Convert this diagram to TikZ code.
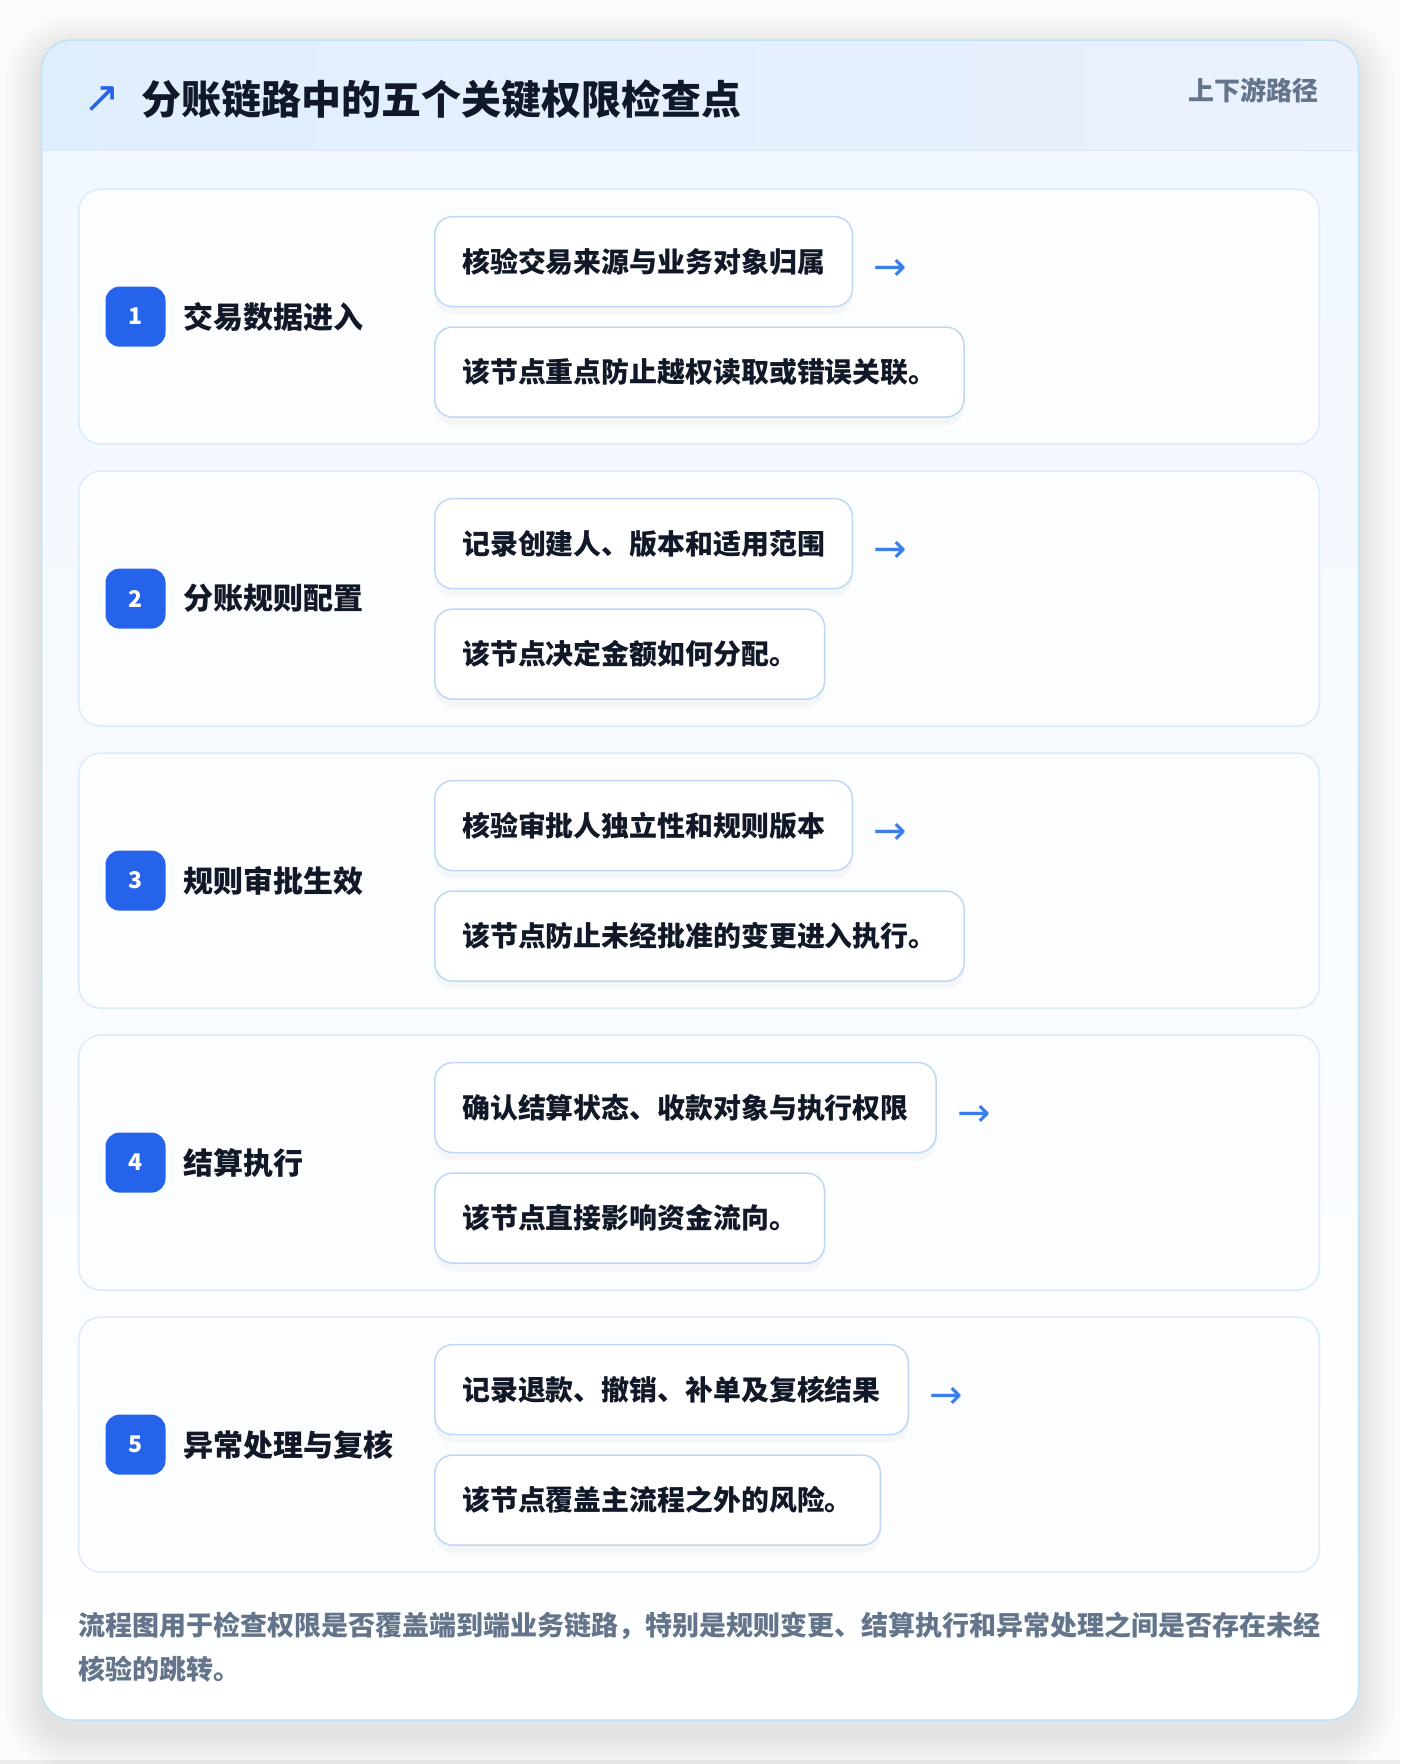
\documentclass[tikz,border=0pt]{standalone}
\usepackage{fontspec}
\setmainfont{Noto Sans CJK SC}
\newfontfamily\symfont{DejaVu Sans}
\usetikzlibrary{positioning,shadows,calc}
\definecolor{ink}{HTML}{111827}
\definecolor{muted}{HTML}{64748B}
\definecolor{badgeblue}{HTML}{2563EB}
\definecolor{arrowblue}{HTML}{3B7DE9}
\definecolor{panelline}{HTML}{BEE3F8}
\definecolor{cardline}{HTML}{DCEAFB}
\definecolor{boxline}{HTML}{BFD7F6}
\definecolor{cardfill}{HTML}{FCFDFF}
\definecolor{headleft}{HTML}{DFEEFD}
\definecolor{headright}{HTML}{EBF1FE}
\definecolor{headline}{HTML}{DBE9FB}
\definecolor{bodytop}{HTML}{F0F7FF}
\definecolor{pageback}{HTML}{FBFBFC}
\definecolor{pageedge}{HTML}{EBEBEE}
\tikzset{
  panel/.style={rounded corners=30pt, draw=panelline, line width=1.5pt},
  stepcard/.style={rectangle, draw=cardline, fill=cardfill, line width=1.5pt, rounded corners=22pt, minimum width=1240.5pt, minimum height=255pt, inner sep=0pt},
  badge/.style={rectangle, fill=badgeblue, rounded corners=14pt, minimum size=60pt, inner sep=0pt, text=white, font=\fontsize{23pt}{23pt}\selectfont\bfseries},
  stepname/.style={inner sep=0pt, text=ink, font=\fontsize{30pt}{30pt}\selectfont\bfseries},
  check/.style={rectangle, draw=boxline, fill=white, line width=1.5pt, rounded corners=18pt, minimum height=90pt, inner xsep=27.5pt, inner ysep=0pt, text=ink, font=\fontsize{27.9pt}{28pt}\selectfont\bfseries, drop shadow={opacity=0.05, shadow xshift=0pt, shadow yshift=-8pt}},
  nextarrow/.style={inner sep=0pt, text=arrowblue, font=\symfont\fontsize{40pt}{40pt}\selectfont},
}
\begin{document}
\begin{tikzpicture}[x=1pt,y=-1pt]
  \useasboundingbox (0,0) rectangle (1400,1764);
  \fill[pageback] (0,0) rectangle (1400,1764);
  \fill[pageedge] (0,1760) rectangle (1400,1764);

  % soft shadow round the panel
  \foreach \s in {1,...,12}
    \fill[black, opacity=0.007, rounded corners=30pt+3*\s] (41.5-3*\s,52-3*\s) rectangle (1358.5+3*\s,1734+3*\s);

  % panel and header band
  \fill[top color=bodytop, bottom color=white, rounded corners=30pt] (41.5,40) rectangle (1358.5,1720);
  \begin{scope}
    \clip[rounded corners=30pt] (41.5,40) rectangle (1358.5,1720);
    \fill[left color=headleft, right color=headright] (41.5,40) rectangle (1358.5,150.7);
    \draw[headline, line width=1.5pt] (41.5,150.7) -- (1358.5,150.7);
  \end{scope}
  \draw[panel] (41.5,40) rectangle (1358.5,1720);

  \node[inner sep=0pt, text=badgeblue, font=\symfont\fontsize{44pt}{44pt}\selectfont] (icon) at (101.5,99.5) {↗};
  \node[anchor=west, inner sep=0pt, text=ink, font=\fontsize{40pt}{42pt}\selectfont\bfseries] (title) at (141,99) {分账链路中的五个关键权限检查点};
  \node[anchor=east, inner sep=0pt, text=muted, font=\fontsize{26pt}{26pt}\selectfont\bfseries] (route) at (1319,90) {上下游路径};

  % step cards
  \node[stepcard] (card1) at (699,316.6) {};
  \node[stepcard, below=25.5pt of card1] (card2) {};
  \node[stepcard, below=25.5pt of card2] (card3) {};
  \node[stepcard, below=25.5pt of card3] (card4) {};
  \node[stepcard, below=25.5pt of card4] (card5) {};

  % step 1
  \node[badge, right=27.3pt of card1.west] (num1) {1};
  \node[stepname, right=18pt of num1] (name1) {交易数据进入};
  \node[check, anchor=north west] (chk1a) at ($(card1.north west)+(356,27.5)$) {核验交易来源与业务对象归属};
  \node[check, below=19pt of chk1a.south west, anchor=north west] (chk1b) {该节点重点防止越权读取或错误关联。};
  \node[nextarrow, right=20pt of chk1a, yshift=-8.5pt] (arr1) {→};

  % step 2
  \node[badge, right=27.3pt of card2.west] (num2) {2};
  \node[stepname, right=18pt of num2] (name2) {分账规则配置};
  \node[check, anchor=north west] (chk2a) at ($(card2.north west)+(356,27.5)$) {记录创建人、版本和适用范围};
  \node[check, below=19pt of chk2a.south west, anchor=north west] (chk2b) {该节点决定金额如何分配。};
  \node[nextarrow, right=20pt of chk2a, yshift=-8.5pt] (arr2) {→};

  % step 3
  \node[badge, right=27.3pt of card3.west] (num3) {3};
  \node[stepname, right=18pt of num3] (name3) {规则审批生效};
  \node[check, anchor=north west] (chk3a) at ($(card3.north west)+(356,27.5)$) {核验审批人独立性和规则版本};
  \node[check, below=19pt of chk3a.south west, anchor=north west] (chk3b) {该节点防止未经批准的变更进入执行。};
  \node[nextarrow, right=20pt of chk3a, yshift=-8.5pt] (arr3) {→};

  % step 4
  \node[badge, right=27.3pt of card4.west] (num4) {4};
  \node[stepname, right=18pt of num4] (name4) {结算执行};
  \node[check, anchor=north west] (chk4a) at ($(card4.north west)+(356,27.5)$) {确认结算状态、收款对象与执行权限};
  \node[check, below=19pt of chk4a.south west, anchor=north west] (chk4b) {该节点直接影响资金流向。};
  \node[nextarrow, right=20pt of chk4a, yshift=-8.5pt] (arr4) {→};

  % step 5
  \node[badge, right=27.3pt of card5.west] (num5) {5};
  \node[stepname, right=18pt of num5] (name5) {异常处理与复核};
  \node[check, anchor=north west] (chk5a) at ($(card5.north west)+(356,27.5)$) {记录退款、撤销、补单及复核结果};
  \node[check, below=19pt of chk5a.south west, anchor=north west] (chk5b) {该节点覆盖主流程之外的风险。};
  \node[nextarrow, right=20pt of chk5a, yshift=-8.5pt] (arr5) {→};

  % footnote
  \node[anchor=north west, align=left, inner sep=0pt, text=muted, font=\fontsize{27pt}{44pt}\selectfont\bfseries] (note) at (78,1611.6) {流程图用于检查权限是否覆盖端到端业务链路，特别是规则变更、结算执行和异常处理之间是否存在未经\\核验的跳转。};
\end{tikzpicture}
\end{document}
